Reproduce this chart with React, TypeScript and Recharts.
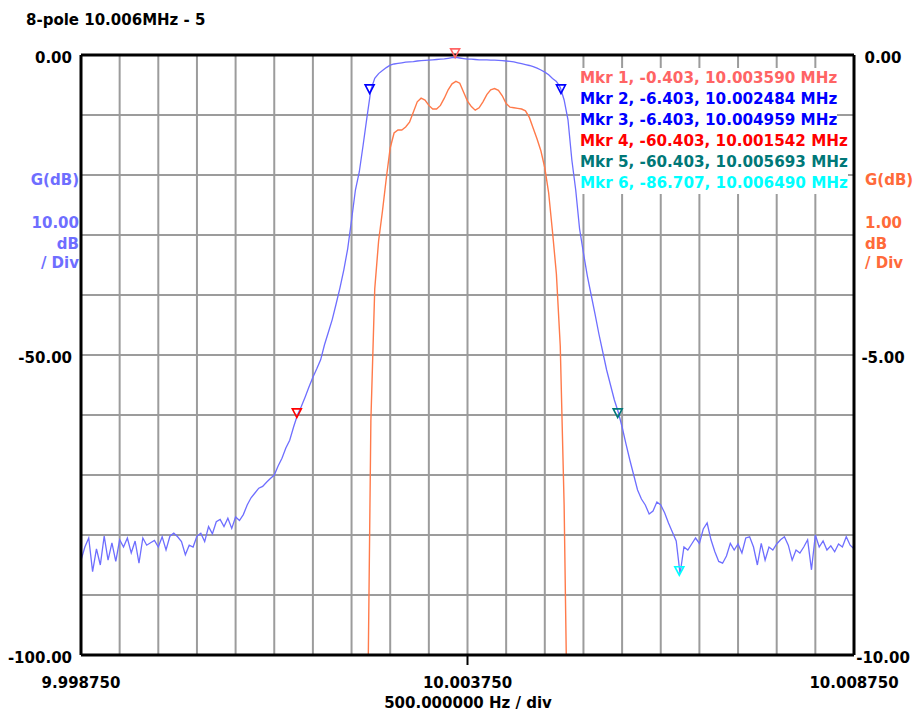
import React from 'react';
import {
  ComposedChart, Line, Scatter, XAxis, YAxis, CartesianGrid, ReferenceLine,
} from 'recharts';

const FONT = '"DejaVu Sans", Verdana, sans-serif';

// sweep: 9.998750 .. 10.008750 MHz, 50 Hz per point
const sweepStartMHz = 9.99875;
const sweepStepMHz = 0.00005;

// wide-span response, left axis (10 dB / div)
const blueGainDb = [
  -84.2, -82.0, -80.5, -86.1, -82.3, -85.0, -80.2, -84.2, -81.3, -84.4,
  -80.8, -82.0, -80.5, -83.0, -81.0, -84.7, -80.5, -81.7, -81.3, -80.9,
  -82.0, -80.3, -82.5, -80.2, -79.7, -80.3, -81.1, -83.3, -81.7, -82.0,
  -80.2, -79.7, -81.1, -78.6, -79.8, -77.8, -77.4, -78.6, -77.2, -78.9,
  -77.0, -77.6, -76.6, -75.0, -73.8, -73.0, -72.2, -71.9, -71.2, -70.6,
  -70.0, -68.5, -67.2, -65.5, -64.2, -62.0, -60.0, -58.6, -57.0, -55.3,
  -53.7, -52.3, -50.8, -48.3, -46.2, -44.1, -41.5, -38.8, -35.8, -32.3,
  -27.5, -22.5, -19.5, -15.0, -10.3, -5.8, -3.9, -3.1, -2.6, -2.1,
  -1.7, -1.5, -1.4, -1.3, -1.2, -1.15, -1.1, -1.0, -0.95, -0.9,
  -0.85, -0.8, -0.75, -0.7, -0.65, -0.55, -0.45, -0.4, -0.5, -0.6,
  -0.7, -0.7, -0.75, -0.8, -0.8, -0.8, -0.85, -0.85, -0.9, -0.95,
  -1.0, -1.05, -1.15, -1.3, -1.45, -1.6, -1.75, -1.95, -2.2, -2.5,
  -2.85, -3.3, -3.9, -4.4, -5.4, -7.5, -10.8, -17.5, -22.5, -29.0,
  -33.0, -36.8, -40.0, -43.2, -46.5, -49.5, -52.5, -55.0, -57.5, -59.5,
  -62.0, -64.8, -67.5, -70.0, -72.5, -74.0, -75.0, -76.5, -76.0, -74.5,
  -75.0, -76.3, -78.0, -79.5, -81.0, -86.5, -82.0, -82.5, -81.5, -80.5,
  -81.4, -79.0, -78.0, -80.8, -82.8, -84.4, -84.7, -83.5, -81.4, -82.5,
  -81.5, -83.0, -80.5, -80.3, -82.0, -85.0, -81.4, -84.2, -82.0, -82.5,
  -81.5, -80.8, -80.3, -81.7, -84.2, -82.5, -83.0, -82.0, -80.8, -85.8,
  -80.0, -82.0, -81.0, -82.5, -81.8, -82.8, -81.5, -82.0, -80.3, -81.7,
  -82.3,
];

// passband detail, right axis (1 dB / div), starts at sweep point 74
const orangeFirstIndex = 74;
const orangeGainDb = [
  -12, -6.1, -3.9, -3.1, -2.6, -2.05, -1.55, -1.3, -1.25, -1.25,
  -1.2, -1.12, -0.95, -0.78, -0.72, -0.75, -0.84, -0.9, -0.9, -0.84,
  -0.72, -0.58, -0.48, -0.44, -0.47, -0.62, -0.77, -0.86, -0.92, -0.88,
  -0.78, -0.66, -0.58, -0.56, -0.59, -0.68, -0.81, -0.87, -0.88, -0.89,
  -0.9, -0.93, -1.04, -1.22, -1.4, -1.6, -1.88, -2.3, -2.95, -3.65,
  -4.85, -7.5, -12,
];

const xTicks = [
  9.99875, 9.99925, 9.99975, 10.00025, 10.00075, 10.00125, 10.00175,
  10.00225, 10.00275, 10.00325, 10.00375, 10.00425, 10.00475, 10.00525,
  10.00575, 10.00625, 10.00675, 10.00725, 10.00775, 10.00825, 10.00875,
];
const xLabelTicks = [9.99875, 10.00375, 10.00875];
const leftTicks = [0, -10, -20, -30, -40, -50, -60, -70, -80, -90, -100];
const leftLabelTicks = [0, -50, -100];
const rightTicks = [0, -1, -2, -3, -4, -5, -6, -7, -8, -9, -10];
const rightLabelTicks = [0, -5, -10];

const markerFreqMHz = [10.00359, 10.002484, 10.004959, 10.001542, 10.005693, 10.00649];
const markerGainDb = [-0.403, -6.403, -6.403, -60.403, -60.403, -86.707];
const markerColors = ['#ff6464', '#0000ff', '#0000ff', '#ff0000', '#007878', '#00ffff'];

const rows = blueGainDb.map((g, i) => {
  const j = i - orangeFirstIndex;
  return {
    f: +(sweepStartMHz + i * sweepStepMHz).toFixed(6),
    blue: g,
    orange: j >= 0 && j < orangeGainDb.length ? orangeGainDb[j] : null,
  };
});

const markers = markerFreqMHz.map((f, i) => ({ f, g: markerGainDb[i], idx: i }));

const near = (list: number[], v: number) => list.some(t => Math.abs(t - v) < 1e-7);

const textStyle = { fontFamily: FONT, fontWeight: 'bold' as const, fontSize: 15 };

function XTick(props: any) {
  const { x, y, payload } = props;
  const v = payload.value;
  if (!near(xLabelTicks, v)) return <g />;
  return (
    <g>
      {Math.abs(v - 10.00375) < 1e-7 && (
        <line x1={x} y1={y} x2={x} y2={y + 10} stroke="#000" strokeWidth={2} />
      )}
      <text x={x} y={y + 33} textAnchor="middle" fill="#000" style={textStyle}>{v.toFixed(6)}</text>
    </g>
  );
}

function LeftTick(props: any) {
  const { x, y, payload } = props;
  if (!near(leftLabelTicks, payload.value)) return <g />;
  return <text x={x - 9} y={y + 7.5} textAnchor="end" fill="#000" style={textStyle}>{payload.value.toFixed(2)}</text>;
}

function RightTick(props: any) {
  const { x, y, payload } = props;
  if (!near(rightLabelTicks, payload.value)) return <g />;
  return <text x={x + 29} y={y + 7.5} textAnchor="middle" fill="#000" style={textStyle}>{payload.value.toFixed(2)}</text>;
}

function MarkerShape(props: any) {
  const { cx, cy, payload } = props;
  const c = markerColors[payload.idx];
  return (
    <path
      d={`M${cx - 4.5},${cy - 8.5} L${cx + 4.5},${cy - 8.5} L${cx},${cy} Z`}
      fill="none" stroke={c} strokeWidth={1.6}
    />
  );
}

const abs = (left: number, top: number, extra: React.CSSProperties = {}): React.CSSProperties => ({
  position: 'absolute', left, top, ...textStyle, lineHeight: '15px', whiteSpace: 'nowrap', ...extra,
});

export default function App() {
  const blueLabel = '#6e6eff';
  const orangeLabel = '#ff6a3a';
  return (
    <div style={{ position: 'absolute', left: 0, top: 0, width: 917, height: 713, background: '#fff' }}>
      <ComposedChart width={917} height={713} data={rows} margin={{ top: 55, right: 8, bottom: 8, left: 8 }}>
        <CartesianGrid yAxisId="left" stroke="#9c9c9c" strokeWidth={2} />
        <XAxis
          dataKey="f" type="number" domain={[9.99875, 10.00875]} ticks={xTicks} interval={0}
          height={50} tickSize={0} tickMargin={0} tickLine={false}
          axisLine={{ stroke: '#000', strokeWidth: 3 }} tick={<XTick />}
        />
        <YAxis
          yAxisId="left" domain={[-100, 0]} ticks={leftTicks} interval={0} width={73}
          tickSize={0} tickMargin={0} tickLine={false}
          axisLine={{ stroke: '#000', strokeWidth: 3 }} tick={<LeftTick />}
        />
        <YAxis
          yAxisId="right" orientation="right" domain={[-10, 0]} allowDataOverflow ticks={rightTicks}
          interval={0} width={55} tickSize={0} tickMargin={0} tickLine={false}
          axisLine={{ stroke: '#000', strokeWidth: 3 }} tick={<RightTick />}
        />
        <ReferenceLine yAxisId="left" y={0} stroke="#000" strokeWidth={3} ifOverflow="visible" />
        <Line
          yAxisId="left" type="linear" dataKey="blue" stroke="#6e6eff" strokeWidth={1.3}
          dot={false} activeDot={false} isAnimationActive={false}
        />
        <Line
          yAxisId="right" type="linear" dataKey="orange" stroke="#ff7a4a" strokeWidth={1.4}
          dot={false} activeDot={false} connectNulls={false} isAnimationActive={false}
        />
        <Scatter yAxisId="left" data={markers} dataKey="g" shape={<MarkerShape />} isAnimationActive={false} />
      </ComposedChart>

      <div style={abs(26, 12.8)}>8-pole 10.006MHz - 5</div>

      <div style={abs(0, 172.6, { width: 79, textAlign: 'right', color: blueLabel })}>G(dB)</div>
      <div style={abs(0, 216.3, { width: 79, textAlign: 'right', color: blueLabel })}>10.00</div>
      <div style={abs(0, 237.3, { width: 79, textAlign: 'right', color: blueLabel })}>dB</div>
      <div style={abs(0, 255.8, { width: 79, textAlign: 'right', color: blueLabel })}>/ Div</div>

      <div style={abs(865, 172.6, { color: orangeLabel })}>G(dB)</div>
      <div style={abs(865, 216.3, { color: orangeLabel })}>1.00</div>
      <div style={abs(865, 237.3, { color: orangeLabel })}>dB</div>
      <div style={abs(865, 255.8, { color: orangeLabel })}>/ Div</div>

      <div style={abs(0, 696.3, { width: 936, textAlign: 'center' })}>500.000000 Hz / div</div>

      {markers.map((m, i) => (
        <div
          key={i}
          style={{
            position: 'absolute', left: 580, top: 68.2 + i * 20.9, ...textStyle, fontSize: 15.2,
            lineHeight: '20.9px', whiteSpace: 'nowrap', background: '#fff', color: markerColors[i],
          }}
        >
          {`Mkr ${i + 1}, ${m.g.toFixed(3)}, ${m.f.toFixed(6)} MHz`}
        </div>
      ))}
    </div>
  );
}
